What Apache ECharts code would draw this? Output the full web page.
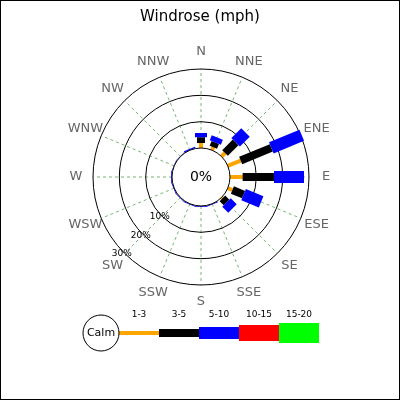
<!DOCTYPE html>
<html>
<head>
<meta charset="utf-8">
<script src="https://cdn.jsdelivr.net/npm/echarts@6/dist/echarts.min.js"></script>
<style>
body { margin: 0; background: #fff; }
#main { width: 398px; height: 398px; border: 1px solid #000; }
</style>
</head>
<body>
<div id="main"></div>
<script>
var directions = ['N', 'NNE', 'NE', 'ENE', 'E', 'ESE', 'SE', 'SSE', 'S', 'SSW', 'SW', 'WSW', 'W', 'WNW', 'NW', 'NNW'];
var bandNames = ['1-3', '3-5', '5-10', '10-15', '15-20'];
var band1 = [1.9, 1.2, 1.9, 5.3, 4.8, 1.9, 0.5, 0, 0, 0, 0, 0, 0, 0, 0, 0];
var band2 = [2.2, 2.0, 5.7, 12.6, 11.9, 4.6, 2.2, 0, 0, 0, 0, 0, 0, 0, 0, 0];
var band3 = [1.6, 2.0, 5.3, 12.5, 11.4, 7.2, 3.2, 0.3, 0.3, 0.3, 0.3, 0.3, 0.3, 0.2, 0.2, 0.5];
var band4 = [0, 0, 0, 0, 0, 0, 0, 0, 0, 0, 0, 0, 0, 0, 0, 0];
var band5 = [0, 0, 0, 0, 0, 0, 0, 0, 0, 0, 0, 0, 0, 0, 0, 0];
var ringValues = [10, 20, 30];
var ringLabels = ['10%', '20%', '30%'];
var calmText = '0%';

var bands = [band1, band2, band3, band4, band5];
var bandColors = ['orange', '#000', '#0000ff', '#ff0000', '#00ff00'];
var bandWidths = [4, 8, 12, 16, 20];

var dom = document.getElementById('main');
var myChart = echarts.init(dom);

function step(i) { return i * 360 / directions.length; }

// rings, spokes and labels
var gridSeries = {
    type: 'custom',
    coordinateSystem: 'polar',
    silent: true,
    z: 1,
    data: [0],
    renderItem: function (params, api) {
        var c = api.coord([-11, 0]);
        var kids = [];
        directions.forEach(function (d, i) {
            var a = api.coord([0, step(i)]);
            var b = api.coord([30, step(i)]);
            kids.push({ type: 'line', shape: { x1: a[0], y1: a[1], x2: b[0], y2: b[1] },
                style: { stroke: '#3c963c', lineWidth: 0.7, lineDash: [3, 3] } });
            var t = api.coord([36.5, step(i)]);
            kids.push({ type: 'text', x: t[0], y: t[1],
                style: { text: d, fill: '#666', font: '13px DejaVu Sans', align: 'center', verticalAlign: 'middle' } });
        });
        ringValues.forEach(function (v, i) {
            var p = api.coord([v, 0]);
            var r = Math.abs(c[1] - p[1]);
            kids.push({ type: 'circle', shape: { cx: c[0], cy: c[1], r: r },
                style: { fill: 'none', stroke: '#000', lineWidth: 1 } });
            var t = api.coord([v + 0.8, 226]);
            kids.push({ type: 'text', x: t[0], y: t[1],
                style: { text: ringLabels[i], fill: '#000', font: '9px DejaVu Sans', align: 'center', verticalAlign: 'middle' } });
        });
        return { type: 'group', children: kids };
    }
};

var calmSeries = {
    type: 'custom',
    coordinateSystem: 'polar',
    silent: true,
    z: 5,
    data: [0],
    renderItem: function (params, api) {
        var c = api.coord([-11, 0]);
        var p = api.coord([0, 0]);
        var r = Math.abs(c[1] - p[1]);
        return { type: 'group', children: [
            { type: 'circle', shape: { cx: c[0], cy: c[1], r: r }, style: { fill: '#fff', stroke: '#000', lineWidth: 1 } },
            { type: 'text', x: c[0], y: c[1], style: { text: calmText, fill: '#000', font: '14px DejaVu Sans', align: 'center', verticalAlign: 'middle' } }
        ] };
    }
};

var series = [gridSeries];
bands.forEach(function (vals, k) {
    var data = vals.map(function (v, i) {
        var start = 0;
        for (var j = 0; j < k; j++) start += bands[j][i];
        return [i, start, start + v];
    });
    series.push({
        type: 'custom',
        name: bandNames[k],
        coordinateSystem: 'polar',
        z: 3,
        data: data,
        renderItem: function (params, api) {
            var i = api.value(0), s = api.value(1), e = api.value(2);
            if (e - s <= 0) return;
            var ang = step(i);
            var p0 = api.coord([s, ang]);
            var p1 = api.coord([e, ang]);
            var rad = ang * Math.PI / 180;
            var w = bandWidths[k] / 2;
            var nx = Math.cos(rad) * w, ny = Math.sin(rad) * w;
            return { type: 'polygon',
                shape: { points: [[p0[0] - nx, p0[1] - ny], [p1[0] - nx, p1[1] - ny], [p1[0] + nx, p1[1] + ny], [p0[0] + nx, p0[1] + ny]] },
                style: { fill: bandColors[k] } };
        }
    });
});
series.push(calmSeries);

// legend
var legend = [
    { type: 'line', shape: { x1: 118, y1: 332, x2: 158, y2: 332 }, style: { stroke: 'orange', lineWidth: 4 } },
    { type: 'circle', shape: { cx: 100, cy: 332, r: 18 }, style: { fill: '#fff', stroke: '#000', lineWidth: 1 } },
    { type: 'text', x: 100, y: 332, style: { text: 'Calm', font: '11px DejaVu Sans', fill: '#000', align: 'center', verticalAlign: 'middle' } }
];
bandNames.forEach(function (n, k) {
    var x0 = 118 + k * 40;
    if (k > 0) {
        legend.push({ type: 'rect', shape: { x: x0, y: 332 - bandWidths[k] / 2, width: 40, height: bandWidths[k] }, style: { fill: bandColors[k] } });
    }
    legend.push({ type: 'text', x: x0 + 20, y: 314, style: { text: n, font: '9px DejaVu Sans', fill: '#000', align: 'center', verticalAlign: 'middle' } });
});

var option = {
    animation: false,
    title: {
        text: 'Windrose (mph)',
        left: 'center',
        top: 4,
        textStyle: { color: '#000', fontSize: 15, fontWeight: 'normal', fontFamily: 'DejaVu Sans' }
    },
    polar: { center: [200, 176], radius: 108 },
    angleAxis: { type: 'value', min: 0, max: 360, startAngle: 90, clockwise: true, show: false },
    radiusAxis: { type: 'value', min: -11, max: 30, show: false },
    graphic: legend,
    series: series
};

if (option && typeof option === "object") {
    myChart.setOption(option, true);
}
</script>
</body>
</html>
